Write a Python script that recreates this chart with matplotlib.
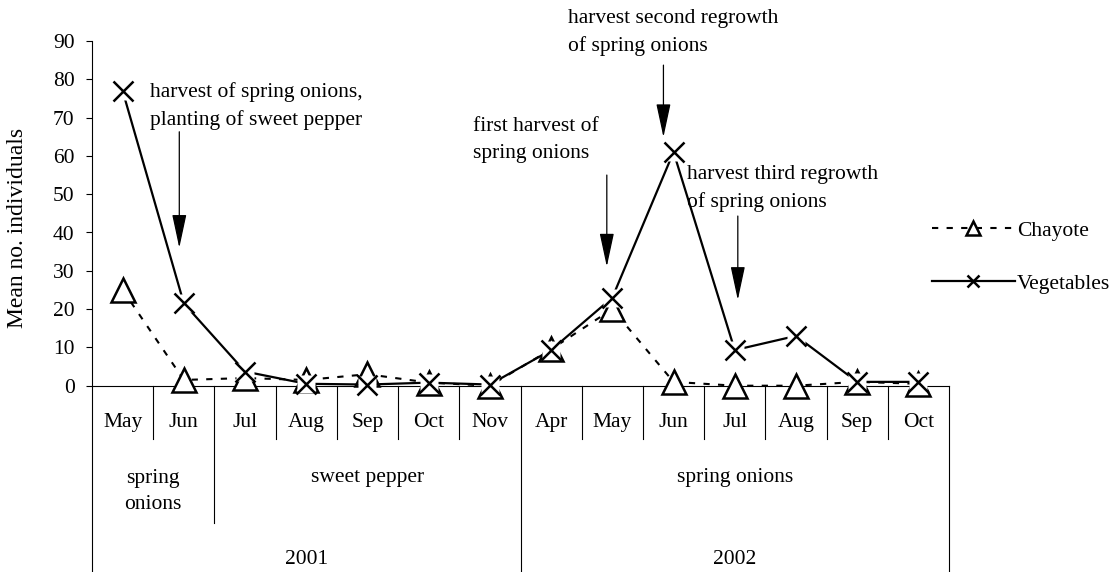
import matplotlib
matplotlib.use("Agg")
import matplotlib.pyplot as plt
import matplotlib.transforms as mtransforms
from matplotlib.lines import Line2D

plt.rcParams['font.family'] = ['Liberation Serif', 'DejaVu Serif']
plt.rcParams['font.size'] = 15.5

# data
months = ['May', 'Jun', 'Jul', 'Aug', 'Sep', 'Oct', 'Nov',
          'Apr', 'May', 'Jun', 'Jul', 'Aug', 'Sep', 'Oct']
chayote = [25, 1.5, 2, 1.5, 3, 0.8, 0, 9.5, 20, 1, 0, 0, 1, 0.5]
vegetables = [77, 21.5, 3.7, 0.5, 0.3, 0.8, 0.3, 9.3, 23, 61, 9.3, 13, 1, 1]
crops = ['spring\nonions', 'sweet pepper', 'spring onions']
crop_span = [(0, 1), (2, 6), (7, 13)]
years = ['2001', '2002']
year_span = [(0, 6), (7, 13)]
yticks = list(range(0, 91, 10))

x = list(range(len(months)))

fig = plt.figure(figsize=(11.2, 5.72), dpi=100)
ax = fig.add_axes([92/1120, 1-385.7/572, (949-92)/1120, (385.7-41)/572])

ax.plot(x, chayote, color='black', lw=1.5, dashes=(3, 4), marker='^', ms=17,
        mfc='white', mec='black', mew=1.8, zorder=3, clip_on=False)
ax.plot(x, vegetables, color='black', lw=1.6, zorder=4, clip_on=False)
# white background behind the X markers (like the Excel marker fill)
ax.plot(x, vegetables, ls='none', marker='s', ms=13, mfc='white', mec='none',
        zorder=5, clip_on=False)
ax.plot(x, vegetables, ls='none', marker='x', ms=14.5, mec='black', mew=1.8,
        zorder=6, clip_on=False)

ax.set_xlim(-0.5, len(months)-0.5)
ax.set_ylim(0, 90)
ax.set_yticks(yticks)
ax.set_xticks([])
ax.tick_params(axis='y', direction='out', length=4.5, width=0.8, pad=8)
for s in ['top', 'right']:
    ax.spines[s].set_visible(False)
ax.spines['left'].set_linewidth(0.8)
ax.spines['bottom'].set_linewidth(0.8)

fig.text(18/1120, 1-227.6/572, 'Mean no. individuals', rotation=90,
         ha='center', va='center', fontsize=17)

# category table under the axis
tr = mtransforms.blended_transform_factory(ax.transData, ax.transAxes)
bottom = -(572-385.7)/(385.7-41)
for k in range(len(months)+1):
    xb = k - 0.5
    if k in (0, 7, len(months)):
        y1 = bottom
    elif k == 2:
        y1 = -0.398
    else:
        y1 = -0.155
    ax.plot([xb, xb], [0, y1], color='black', lw=0.8, transform=tr, clip_on=False)

for i, m in enumerate(months):
    ax.text(i, -0.108, m, ha='center', va='center', transform=tr)
for c, (a, b) in zip(crops, crop_span):
    if '\n' in c:
        ax.text((a+b)/2, -0.307, c, ha='center', va='center', transform=tr,
                linespacing=1.55)
    else:
        ax.text((a+b)/2, -0.265, c, ha='center', va='center', transform=tr)
for yr, (a, b) in zip(years, year_span):
    ax.text((a+b)/2, -0.505, yr, ha='center', va='center', transform=tr)

# annotations
notes = [
    ('harvest of spring onions,\nplanting of sweet pepper', 0.448, 73.0, 0.926, 66.3, 36.0),
    ('first harvest of\nspring onions', 5.73, 64.2, 7.91, 55.0, 31.1),
    ('harvest second regrowth\nof spring onions', 7.28, 92.2, 8.835, 83.7, 64.9),
    ('harvest third regrowth\nof spring onions', 9.22, 51.6, 10.05, 44.3, 22.4),
]
for txt, tx, ty, ax_x, y0, y1 in notes:
    ax.text(tx, ty, txt, ha='left', va='center', linespacing=1.55, clip_on=False)
    ax.annotate('', xy=(ax_x, y1), xytext=(ax_x, y0), annotation_clip=False,
                arrowprops=dict(arrowstyle='-|>,head_length=2.1,head_width=0.45',
                                mutation_scale=10, color='black', lw=0.9,
                                shrinkA=0, shrinkB=0))

h1 = Line2D([], [], color='black', lw=1.5, dashes=(3, 4), marker='^', ms=17,
            mfc='white', mec='black', mew=1.8)
h2 = Line2D([], [], color='black', lw=1.6, marker='x', ms=14.5, mec='black', mew=1.8)
fig.legend([h1, h2], ['Chayote', 'Vegetables'], loc='upper left',
           bbox_to_anchor=(921/1120, 1-210/572), frameon=False, borderpad=0,
           handlelength=3.85, handletextpad=0.1, labelspacing=1.52,
           markerscale=0.62)

fig.savefig('out.png', dpi=100)
